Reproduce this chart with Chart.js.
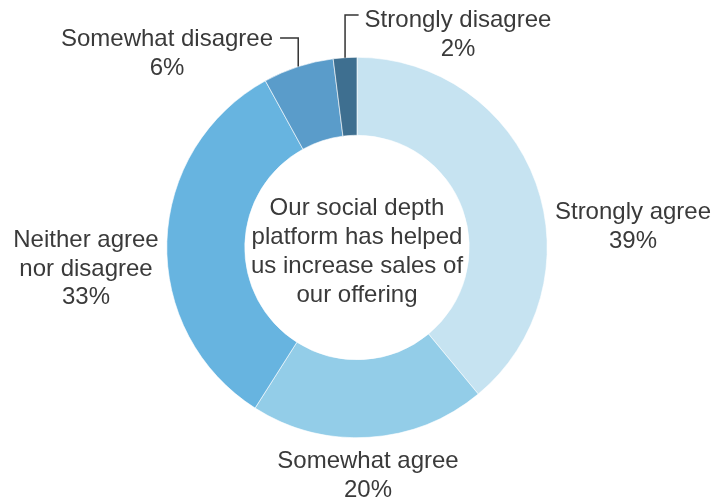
<!DOCTYPE html>
<html>
<head>
<meta charset="utf-8">
<script src="https://cdn.jsdelivr.net/npm/chart.js@4/dist/chart.umd.min.js"></script>
<style>
  html, body { margin: 0; padding: 0; background: #ffffff; }
  #wrap { width: 712px; height: 501px; position: relative; }
</style>
</head>
<body>
<div id="wrap"><canvas id="c" width="712" height="501"></canvas></div>
<script>
// ---- data ----
const categories = ["Strongly agree", "Somewhat agree", "Neither agree nor disagree", "Somewhat disagree", "Strongly disagree"];
const labelLines = [["Strongly agree"], ["Somewhat agree"], ["Neither agree", "nor disagree"], ["Somewhat disagree"], ["Strongly disagree"]];
const values = [39, 20, 33, 6, 2];
const centerText = ["Our social depth", "platform has helped", "us increase sales of", "our offering"];
const colors = ["#c6e3f1", "#93cde8", "#67b4e0", "#5a9cca", "#3e6f90"];

// ---- label layout (offsets from chart center, px) ----
const labelLayout = [
  { dx: 276, dy: -28.5 },
  { dx: 11, dy: 220.5 },
  { dx: -271, dy: -0.5 },
  { dx: -190, dy: -201.5, connector: true, lineDy: -8 },
  { dx: 101, dy: -220.5, connector: true, lineDy: -12 }
];

const FONT = '24px "Liberation Sans", Arial, sans-serif';
const TEXT_COLOR = "#3a3a3a";
const LINE_H = 28.5;
const CENTER_LINE_H = 29;

const labelsPlugin = {
  id: "donutLabels",
  afterDraw(chart) {
    const ctx = chart.ctx;
    const meta = chart.getDatasetMeta(0);
    const arc0 = meta.data[0];
    const cx = arc0.x, cy = arc0.y;
    const R = arc0.outerRadius;
    ctx.save();
    ctx.font = FONT;
    ctx.fillStyle = TEXT_COLOR;
    ctx.textBaseline = "alphabetic";
    ctx.textAlign = "center";
    // center text
    centerText.forEach((t, i) => {
      ctx.fillText(t, cx, cy - 32.5 + i * CENTER_LINE_H);
    });
    // segment labels
    meta.data.forEach((arc, i) => {
      const L = labelLayout[i];
      const lines = labelLines[i].concat([values[i] + "%"]);
      const x = cx + L.dx, y0 = cy + L.dy;
      lines.forEach((t, k) => ctx.fillText(t, x, y0 + k * LINE_H));
      if (L.connector) {
        const mid = (arc.startAngle + arc.endAngle) / 2;
        const ax = cx + Math.cos(mid) * R;
        const ay = cy + Math.sin(mid) * R;
        const w = ctx.measureText(lines[0]).width;
        const ly = y0 + L.lineDy;
        ctx.strokeStyle = "#333333";
        ctx.lineWidth = 1.5;
        ctx.beginPath();
        if (ax > x) {
          ctx.moveTo(x + w / 2 + 7, ly);
        } else {
          ctx.moveTo(x - w / 2 - 6, ly);
        }
        ctx.lineTo(ax, ly);
        ctx.lineTo(ax, ay);
        ctx.stroke();
      }
    });
    ctx.restore();
  }
};

new Chart(document.getElementById("c"), {
  type: "doughnut",
  data: {
    labels: categories,
    datasets: [{
      data: values,
      backgroundColor: colors,
      borderColor: "#ffffff",
      borderWidth: 0.6,
      hoverOffset: 0
    }]
  },
  options: {
    responsive: false,
    animation: false,
    cutout: "59%",
    layout: { padding: { top: 57, bottom: 63, left: 2, right: 0 } },
    plugins: { legend: { display: false }, tooltip: { enabled: false } }
  },
  plugins: [labelsPlugin]
});
</script>
</body>
</html>
